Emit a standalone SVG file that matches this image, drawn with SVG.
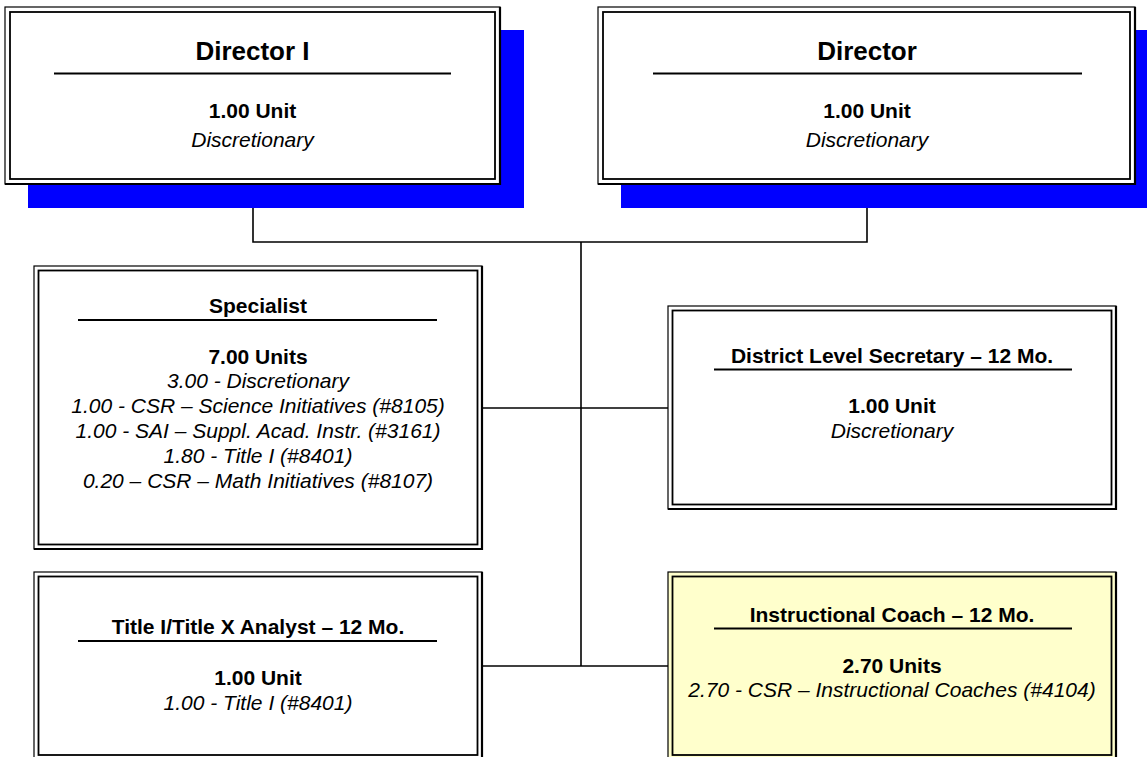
<svg xmlns="http://www.w3.org/2000/svg" width="1147" height="757" viewBox="0 0 1147 757">
<style>
  .outer { fill: #FFFFFF; stroke: #000000; stroke-width: 1.2; }
  .edge { fill: none; stroke: #000000; stroke-width: 2.2; }
  .inner { fill: none; stroke: #000000; stroke-width: 1.8; }
  .yellow { fill: #FFFFCC; }
  .shadow { fill: #0000FF; stroke: none; }
  .rule { stroke: #000000; stroke-width: 2; }
  .conn { fill: none; stroke: #000000; stroke-width: 1.6; }
  text { font-family: "Liberation Sans", Arial, sans-serif; fill: #000000; text-anchor: middle; }
  .big { font-size: 26px; font-weight: bold; }
  .hd { font-size: 21px; font-weight: bold; }
  .it { font-size: 21px; font-style: italic; }
</style>
<rect width="1147" height="757" fill="#FFFFFF"/>
<g id="connectors">
  <polyline class="conn" points="253,184 253,242 867,242 867,184"/>
  <line class="conn" x1="581" y1="242" x2="581" y2="666"/>
  <line class="conn" x1="482" y1="408" x2="668" y2="408"/>
  <line class="conn" x1="482" y1="666" x2="668" y2="666"/>
</g>
<g id="director-i">
  <rect class="shadow" x="28" y="30" width="496" height="178"/>
  <rect class="outer" x="5" y="7" width="495" height="177"/>
  <path class="edge" d="M500,7 V184 H5"/>
  <rect class="inner" x="10" y="12" width="485" height="167"/>
  <text class="big" x="252.5" y="60">Director I</text>
  <line class="rule" x1="54" y1="73.5" x2="451" y2="73.5"/>
  <text class="hd" x="252.5" y="118">1.00 Unit</text>
  <text class="it" x="252.5" y="147">Discretionary</text>
</g>
<g id="director">
  <rect class="shadow" x="621" y="30" width="540" height="178"/>
  <rect class="outer" x="598" y="7" width="537" height="177"/>
  <path class="edge" d="M1135,7 V184 H598"/>
  <rect class="inner" x="603" y="12" width="527" height="167"/>
  <text class="big" x="867" y="60">Director</text>
  <line class="rule" x1="653" y1="73.5" x2="1082" y2="73.5"/>
  <text class="hd" x="867" y="118">1.00 Unit</text>
  <text class="it" x="867" y="147">Discretionary</text>
</g>
<g id="specialist">
  <rect class="outer" x="34" y="266" width="448" height="283"/>
  <path class="edge" d="M482,266 V549 H34"/>
  <rect class="inner" x="38.5" y="270.5" width="439" height="274"/>
  <text class="hd" x="258" y="313">Specialist</text>
  <line class="rule" x1="78" y1="320" x2="437" y2="320"/>
  <text class="hd" x="258" y="364">7.00 Units</text>
  <text class="it" x="258" y="388">3.00 - Discretionary</text>
  <text class="it" x="258" y="413">1.00 - CSR – Science Initiatives (#8105)</text>
  <text class="it" x="258" y="438">1.00 - SAI – Suppl. Acad. Instr. (#3161)</text>
  <text class="it" x="258" y="463">1.80 - Title I (#8401)</text>
  <text class="it" x="258" y="488">0.20 – CSR – Math Initiatives (#8107)</text>
</g>
<g id="district-secretary">
  <rect class="outer" x="668" y="306" width="448" height="203"/>
  <path class="edge" d="M1116,306 V509 H668"/>
  <rect class="inner" x="672.5" y="310.5" width="439" height="194"/>
  <text class="hd" x="892" y="363">District Level Secretary – 12 Mo.</text>
  <line class="rule" x1="714" y1="369.5" x2="1072" y2="369.5"/>
  <text class="hd" x="892" y="413">1.00 Unit</text>
  <text class="it" x="892" y="438">Discretionary</text>
</g>
<g id="title-analyst">
  <rect class="outer" x="34" y="572" width="448" height="187"/>
  <path class="edge" d="M482,572 V759"/>
  <rect class="inner" x="38.5" y="576.5" width="439" height="178.5"/>
  <text class="hd" x="258" y="634">Title I/Title X Analyst – 12 Mo.</text>
  <line class="rule" x1="78" y1="641" x2="437" y2="641"/>
  <text class="hd" x="258" y="685">1.00 Unit</text>
  <text class="it" x="258" y="710">1.00 - Title I (#8401)</text>
</g>
<g id="instructional-coach">
  <rect class="outer yellow" x="668" y="572" width="448" height="187"/>
  <path class="edge" d="M1116,572 V759"/>
  <rect class="inner" x="672.5" y="576.5" width="439" height="178.5"/>
  <text class="hd" x="892" y="622">Instructional Coach – 12 Mo.</text>
  <line class="rule" x1="714" y1="628.5" x2="1072" y2="628.5"/>
  <text class="hd" x="892" y="673">2.70 Units</text>
  <text class="it" x="892" y="697">2.70 - CSR – Instructional Coaches (#4104)</text>
</g>
</svg>
